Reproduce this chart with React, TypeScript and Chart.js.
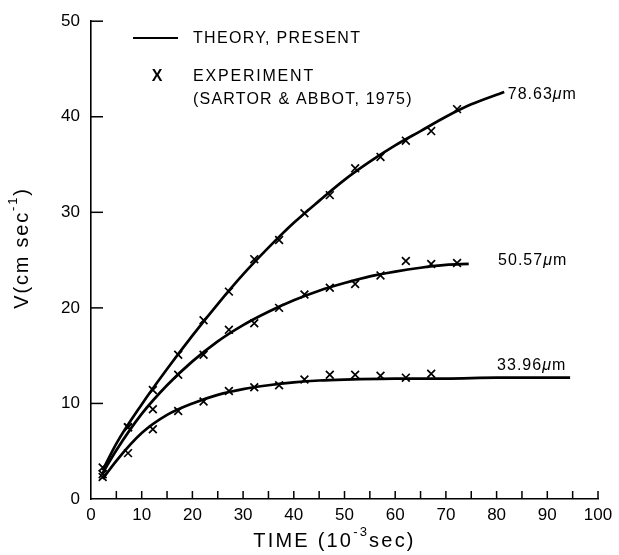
import React, { useEffect, useRef } from "react";
import { Chart, registerables } from "chart.js";

Chart.register(...registerables);

const FONT = '"Liberation Sans", Arial, sans-serif';

// Axis ticks
const xTickMin = 0;
const xTickMax = 100;
const xTickStep = 5;
const xLabelEvery = 10;
const yTickMin = 0;
const yTickMax = 50;
const yTickStep = 10;

// Experimental points (Sartor & Abbot, 1975)
const expTimes = [2.3, 7.3, 12.2, 17.2, 22.2, 27.2, 32.2, 37.1, 42.1, 47.1, 52.1, 57.1, 62.1, 67.1, 72.2];
const exp7863 = [3.3, 7.5, 11.4, 15.1, 18.7, 21.7, 25.1, 27.1, 29.9, 31.8, 34.6, 35.8, 37.5, 38.5, 40.8];
const exp5057 = [2.6, 7.5, 9.4, 13.0, 15.1, 17.7, 18.4, 20.0, 21.4, 22.1, 22.5, 23.4, 24.9, 24.6, 24.7];
const exp3396 = [2.3, 4.8, 7.3, 9.2, 10.2, 11.3, 11.7, 11.9, 12.5, 13.0, 13.0, 12.9, 12.7, 13.1];

// Theory curves (present)
const thT7863 = [2.3, 5, 10, 15, 20, 25, 30, 35, 40, 45, 50, 55, 60, 65, 70, 75, 81.5];
const thV7863 = [3.0, 5.8, 9.9, 13.6, 17.1, 20.4, 23.5, 26.3, 28.9, 31.2, 33.4, 35.3, 37.0, 38.5, 40.0, 41.3, 42.6];
const thT5057 = [2.3, 5, 10, 15, 20, 25, 30, 35, 40, 45, 50, 55, 60, 65, 70, 74.5];
const thV5057 = [2.7, 5.1, 8.9, 11.9, 14.4, 16.5, 18.2, 19.6, 20.8, 21.8, 22.6, 23.3, 23.8, 24.2, 24.5, 24.6];
const thT3396 = [2.3, 5, 10, 15, 20, 25, 30, 35, 40, 45, 50, 60, 70, 80, 94.5];
const thV3396 = [2.1, 4.0, 6.9, 8.8, 10.0, 10.9, 11.5, 11.9, 12.2, 12.4, 12.5, 12.6, 12.6, 12.7, 12.7];

// Curve labels
const curveLabels = ["78.63", "50.57", "33.96"];

const zip = (xs: number[], ys: number[]) => ys.map((y, i) => ({ x: xs[i], y }));

type Part = { text: string; sup?: boolean };

function drawRich(ctx: CanvasRenderingContext2D, parts: Part[], x: number, y: number, size: number, spacing: number, align: "left" | "center") {
  const widths = parts.map((p) => {
    ctx.font = `${p.sup ? Math.round(size * 0.65) : size}px ${FONT}`;
    (ctx as any).letterSpacing = `${spacing}px`;
    return ctx.measureText(p.text).width;
  });
  const total = widths.reduce((a, b) => a + b, 0);
  let cx = align === "center" ? x - total / 2 : x;
  ctx.textAlign = "left";
  ctx.textBaseline = "middle";
  parts.forEach((p, i) => {
    ctx.font = `${p.sup ? Math.round(size * 0.65) : size}px ${FONT}`;
    (ctx as any).letterSpacing = `${spacing}px`;
    ctx.fillText(p.text, cx, p.sup ? y - size * 0.42 : y);
    cx += widths[i];
  });
  (ctx as any).letterSpacing = "0px";
}

function drawMicron(ctx: CanvasRenderingContext2D, num: string, x: number, y: number, size: number) {
  ctx.textAlign = "left";
  ctx.textBaseline = "middle";
  ctx.font = `${size}px ${FONT}`;
  (ctx as any).letterSpacing = "1px";
  ctx.fillText(num, x, y);
  let cx = x + ctx.measureText(num).width;
  ctx.font = `italic ${size}px ${FONT}`;
  ctx.fillText("\u03BC", cx, y);
  cx += ctx.measureText("\u03BC").width;
  ctx.font = `${size}px ${FONT}`;
  ctx.fillText("m", cx, y);
  (ctx as any).letterSpacing = "0px";
}

const overlay = {
  id: "overlay",
  afterDraw(chart: any) {
    const ctx: CanvasRenderingContext2D = chart.ctx;
    const xs = chart.scales.x;
    const ys = chart.scales.y;
    const area = chart.chartArea;
    ctx.save();
    ctx.strokeStyle = "#000";
    ctx.fillStyle = "#000";
    ctx.lineWidth = 1.5;
    // inward tick marks
    xs.ticks.forEach((t: any) => {
      if (t.value === xTickMin) return;
      const px = xs.getPixelForValue(t.value);
      ctx.beginPath();
      ctx.moveTo(px, area.bottom);
      ctx.lineTo(px, area.bottom - 8);
      ctx.stroke();
    });
    ys.ticks.forEach((t: any) => {
      if (t.value === yTickMin) return;
      const py = ys.getPixelForValue(t.value);
      ctx.beginPath();
      ctx.moveTo(area.left, py);
      ctx.lineTo(area.left + 12, py);
      ctx.stroke();
    });

    // legend
    const lx = area.left + 42;
    ctx.lineWidth = 2.2;
    ctx.beginPath();
    ctx.moveTo(lx, 38);
    ctx.lineTo(lx + 45, 38);
    ctx.stroke();
    drawRich(ctx, [{ text: "THEORY, PRESENT" }], lx + 60, 39, 16, 1.3, "left");
    ctx.font = `bold 16px ${FONT}`;
    ctx.textAlign = "center";
    ctx.textBaseline = "middle";
    ctx.fillText("X", lx + 24, 77);
    drawRich(ctx, [{ text: "EXPERIMENT" }], lx + 60, 77, 16, 1.8, "left");
    drawRich(ctx, [{ text: "(SARTOR & ABBOT, 1975)" }], lx + 60, 100, 16, 1.2, "left");

    // curve labels
    drawMicron(ctx, curveLabels[0], xs.getPixelForValue(82.2), ys.getPixelForValue(42.3), 16);
    drawMicron(ctx, curveLabels[1], xs.getPixelForValue(80.3), ys.getPixelForValue(25.0), 16);
    drawMicron(ctx, curveLabels[2], xs.getPixelForValue(80.1), ys.getPixelForValue(14.0), 16);

    // axis titles
    drawRich(ctx, [{ text: "TIME (10" }, { text: "-3", sup: true }, { text: "sec)" }], (area.left + area.right) / 2 - 10, 541, 20, 2.2, "center");
    ctx.save();
    ctx.translate(22, 248);
    ctx.rotate(-Math.PI / 2);
    drawRich(ctx, [{ text: "V(cm sec" }, { text: "-1", sup: true }, { text: ")" }], 0, 0, 20, 1.8, "center");
    ctx.restore();
    ctx.restore();
  },
};

export default function App() {
  const ref = useRef<HTMLCanvasElement | null>(null);
  useEffect(() => {
    if (!ref.current) return;
    const line = (t: number[], v: number[]) => ({
      type: "line" as const,
      data: zip(t, v),
      borderColor: "#000",
      borderWidth: 2.7,
      pointRadius: 0,
      fill: false,
      cubicInterpolationMode: "monotone" as const,
      order: 2,
    });
    const pts = (v: number[]) => ({
      type: "scatter" as const,
      data: zip(expTimes, v),
      pointStyle: "crossRot",
      pointRadius: 5.5,
      borderColor: "#000",
      backgroundColor: "#000",
      pointBorderWidth: 1.7,
      borderWidth: 1.7,
      showLine: false,
      order: 1,
    });
    const chart = new Chart(ref.current, {
      type: "line",
      data: {
        datasets: [
          line(thT7863, thV7863),
          line(thT5057, thV5057),
          line(thT3396, thV3396),
          pts(exp7863),
          pts(exp5057),
          pts(exp3396),
        ] as any,
      },
      options: {
        responsive: false,
        animation: false,
        devicePixelRatio: 1,
        layout: { padding: { top: 19, right: 21, left: 0, bottom: 0 } },
        plugins: { legend: { display: false }, tooltip: { enabled: false } },
        scales: {
          x: {
            type: "linear",
            min: xTickMin,
            max: xTickMax,
            afterFit: (s: any) => {
              s.height = 56;
            },
            grid: { display: false, drawTicks: false },
            border: { display: true, color: "#000", width: 1.6 },
            ticks: {
              stepSize: xTickStep,
              autoSkip: false,
              maxRotation: 0,
              padding: 6,
              color: "#000",
              font: { family: FONT, size: 17 },
              callback: (v: any) => (Number(v) % xLabelEvery === 0 ? String(v) : ""),
            },
          },
          y: {
            type: "linear",
            min: yTickMin,
            max: yTickMax,
            afterFit: (s: any) => {
              s.width = 91;
            },
            grid: { display: false, drawTicks: false },
            border: { display: true, color: "#000", width: 1.6 },
            ticks: {
              stepSize: yTickStep,
              padding: 11,
              color: "#000",
              font: { family: FONT, size: 17 },
            },
          },
        },
      },
      plugins: [overlay],
    });
    return () => chart.destroy();
  }, []);
  return (
    <div style={{ position: "fixed", left: 0, top: 0, width: 619, height: 555, background: "#fff" }}>
      <canvas ref={ref} width={619} height={555} style={{ width: 619, height: 555, display: "block" }} />
    </div>
  );
}
